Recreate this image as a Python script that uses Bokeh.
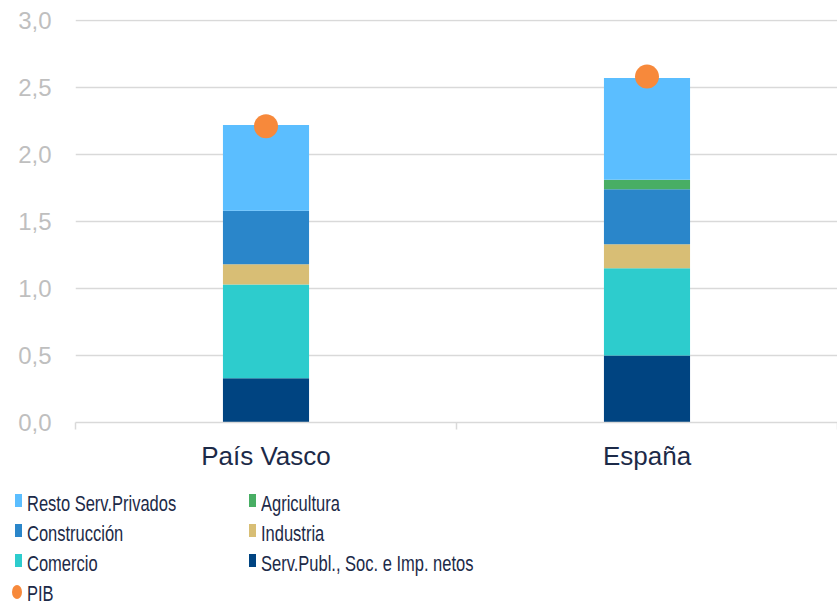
from bokeh.plotting import figure
from bokeh.layouts import column
from bokeh.models import (Range1d, LinearAxis, FixedTicker, CustomJSTickFormatter,
                          ColumnDataSource, Div)
from bokeh.embed import file_html
from bokeh.resources import INLINE

# ---- data ----
regions = ["País Vasco", "España"]
serv_publ = [0.33, 0.50]
comercio = [0.70, 0.65]
industria = [0.15, 0.18]
construccion = [0.40, 0.41]
agricultura = [0.00, 0.07]
resto = [0.64, 0.76]
pib = [2.21, 2.58]
y_ticks = [0.0, 0.5, 1.0, 1.5, 2.0, 2.5, 3.0]

series = ["serv_publ", "comercio", "industria", "construccion", "agricultura", "resto"]
series_labels = {
    "serv_publ": "Serv.Publ., Soc. e Imp. netos",
    "comercio": "Comercio",
    "industria": "Industria",
    "construccion": "Construcción",
    "agricultura": "Agricultura",
    "resto": "Resto Serv.Privados",
}
series_colors = {
    "serv_publ": "#004481",
    "comercio": "#2dcccd",
    "industria": "#d8be75",
    "construccion": "#2a86ca",
    "agricultura": "#48ae64",
    "resto": "#5bbeff",
}
pib_label = "PIB"
pib_color = "#f7893b"
legend_order = ["resto", "agricultura", "construccion", "industria", "comercio", "serv_publ"]

n = len(regions)
centers = [i + 0.5 for i in range(n)]  # category slot centres on a linear scale
src = ColumnDataSource(dict(x=centers, region=regions, serv_publ=serv_publ, comercio=comercio,
                            industria=industria, construccion=construccion,
                            agricultura=agricultura, resto=resto, pib=pib))

TEXT = "#1c2a48"
GRID = "#d9d9d9"
FONT = "Liberation Sans"

p = figure(x_range=Range1d(0, n), y_range=Range1d(0, 3.006),
           width=837, height=476, output_backend="svg", toolbar_location=None,
           x_axis_location=None, y_axis_location="left",
           min_border_left=75, min_border_right=0, min_border_top=19, min_border_bottom=54)
p.outline_line_color = None
p.xgrid.grid_line_color = None
p.ygrid.grid_line_color = GRID
p.ygrid.grid_line_width = 1.5
p.ygrid.ticker = FixedTicker(ticks=y_ticks)

ya = p.yaxis[0]
ya.ticker = FixedTicker(ticks=y_ticks)
ya.formatter = CustomJSTickFormatter(code="return tick.toFixed(1).replace('.', ',');")
ya.axis_line_color = None
ya.major_tick_line_color = None
ya.minor_tick_line_color = None
ya.major_tick_out = 0
ya.major_tick_in = 0
ya.major_label_standoff = 24
ya.major_label_text_font = FONT
ya.major_label_text_font_size = "24px"
ya.major_label_text_color = "#bfbfbf"

p.vbar_stack(series, x="x", width=0.226, source=src,
             color=[series_colors[s] for s in series], line_width=0)
p.scatter("x", "pib", source=src, size=24, color=pib_color, line_width=0)

# category axis: labels at slot centres, small tick marks at slot boundaries
cat_axis = LinearAxis(ticker=FixedTicker(ticks=centers, minor_ticks=list(range(n + 1))),
                      formatter=CustomJSTickFormatter(args=dict(labels=regions),
                                                      code="return labels[Math.floor(tick)];"),
                      axis_line_color=GRID, axis_line_width=1.5,
                      major_tick_line_color=None, major_tick_out=0, major_tick_in=0,
                      minor_tick_line_color=GRID, minor_tick_line_width=1.5,
                      minor_tick_out=7, minor_tick_in=0,
                      major_label_text_font=FONT, major_label_text_font_size="26px",
                      major_label_text_color=TEXT, major_label_standoff=11)
p.add_layout(cat_axis, "below")

# ---- legend strip (HTML) ----
keys = legend_order + ["PIB"]
labels = [series_labels[k] for k in legend_order] + [pib_label]
colors = [series_colors[k] for k in legend_order] + [pib_color]
parts = []
for i, (lab, col) in enumerate(zip(labels, colors)):
    row, c = divmod(i, 2)
    cy = 27.2 + row * 30.2          # cap-centre of the row inside the strip
    gx = (15, 249)[c]
    tx = (27, 261)[c]
    if keys[i] == "PIB":
        glyph = (f"<div style='position:absolute;left:12px;top:{cy - 9.0:.1f}px;width:10px;"
                 f"height:14px;border-radius:50%;background:{col};'></div>")
    else:
        glyph = (f"<div style='position:absolute;left:{gx}px;top:{cy - 9.5:.1f}px;width:7px;"
                 f"height:13px;background:{col};'></div>")
    text = (f"<div style='position:absolute;left:{tx}px;top:{cy - 8.4:.1f}px;height:18px;"
            f"line-height:18px;font-size:22px;white-space:nowrap;transform:scaleX(0.75);"
            f"transform-origin:0 50%;'>{lab}</div>")
    parts.append(glyph + text)

html = (f"<div style=\"position:relative;width:837px;height:128px;font-family:'{FONT}',Arial,sans-serif;"
        f"color:{TEXT};\">" + "".join(parts) + "</div>")
legend_div = Div(text=html, width=837, height=128, styles={"margin": "0", "padding": "0"})

layout = column(p, legend_div, spacing=0)
open("out.html", "w").write(file_html(layout, INLINE))
